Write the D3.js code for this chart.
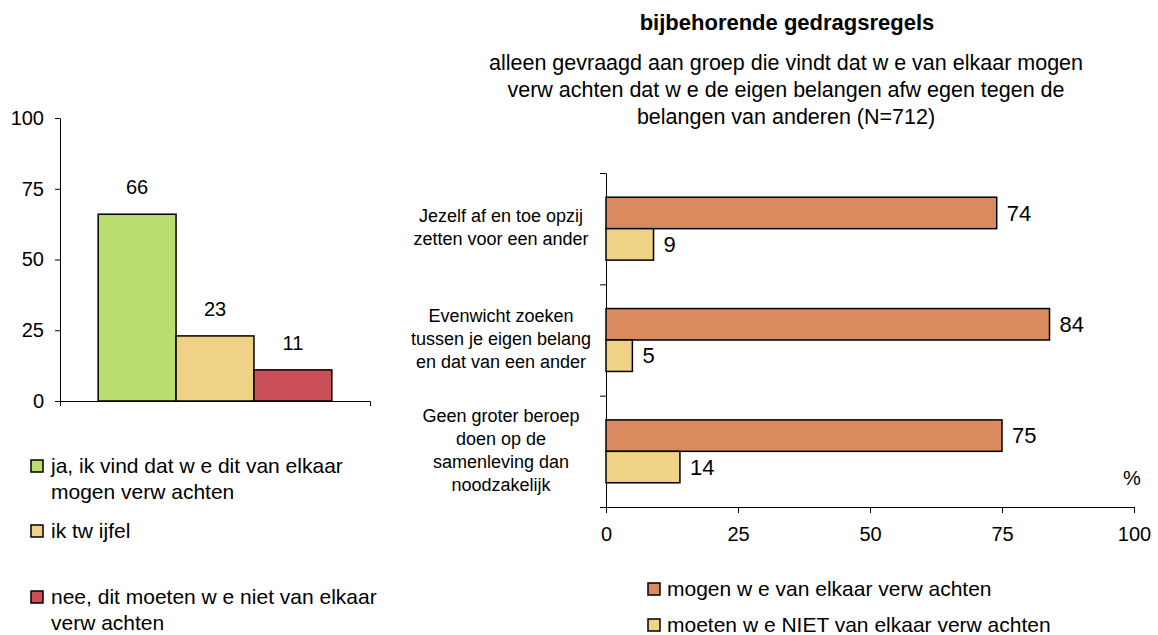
<!DOCTYPE html>
<html>
<head>
<meta charset="utf-8">
<script src="https://cdn.jsdelivr.net/npm/d3@7"></script>
<style>
  body { margin: 0; background: #fff; }
  svg { font-family: "Liberation Sans", Arial, sans-serif; }
</style>
</head>
<body>
<div id="chart"></div>
<script>
// left chart: one question, three answers
var leftSeries = ["ja, ik vind dat w e dit van elkaar mogen verw achten", "ik tw ijfel", "nee, dit moeten w e niet van elkaar verw achten"];
var leftValues = [66, 23, 11];
var leftColors = ["#bade6e", "#efd286", "#c94f59"];
var leftTicks = [0, 25, 50, 75, 100];

// right chart: behaviour rules, two series
var categories = [
  ["Jezelf af en toe opzij", "zetten voor een ander"],
  ["Evenwicht zoeken", "tussen je eigen belang", "en dat van een ander"],
  ["Geen groter beroep", "doen op de", "samenleving dan", "noodzakelijk"]
];
var rightSeries = ["mogen w e van elkaar verw achten", "moeten w e NIET van elkaar verw achten"];
var mogen = [74, 84, 75];
var nietMogen = [9, 5, 14];
var rightColors = ["#d98a5f", "#efd286"];
var rightTicks = [0, 25, 50, 75, 100];

var titleText = "bijbehorende gedragsregels";
var subtitleLines = [
  "alleen gevraagd aan groep die vindt dat w e van elkaar mogen",
  "verw achten dat w e de eigen belangen afw egen tegen de",
  "belangen van anderen (N=712)"
];

var width = 1158, height = 635;
var svg = d3.select("#chart").append("svg")
  .attr("width", width)
  .attr("height", height);

// ---------- left chart ----------
var yL = d3.scaleLinear().domain([0, 100]).range([401, 118]);
var xL = d3.scaleBand().domain(d3.range(leftValues.length))
  .range([60, 370]).paddingOuter(0.49).paddingInner(0);

var gL = svg.append("g");

gL.append("g")
  .attr("transform", "translate(60,0)")
  .call(d3.axisLeft(yL).tickValues(leftTicks).tickSize(5).tickSizeOuter(0).tickPadding(11))
  .call(function (g) {
    g.selectAll("text").style("font-size", "20px").attr("fill", "#000");
    g.selectAll("line, path").attr("stroke", "#000");
  });

gL.append("g")
  .attr("transform", "translate(0,401)")
  .call(d3.axisBottom(d3.scaleLinear().range([60, 370])).ticks(0).tickSizeOuter(5))
  .call(function (g) { g.select("path").attr("stroke", "#000"); });

gL.selectAll(".lbar")
  .data(leftValues)
  .enter().append("rect")
  .attr("class", "lbar")
  .attr("x", function (d, i) { return xL(i); })
  .attr("y", function (d) { return yL(d); })
  .attr("width", xL.bandwidth())
  .attr("height", function (d) { return yL(0) - yL(d); })
  .attr("fill", function (d, i) { return leftColors[i]; })
  .attr("stroke", "#000")
  .attr("stroke-width", 1.5);

gL.selectAll(".lval")
  .data(leftValues)
  .enter().append("text")
  .attr("class", "lval")
  .attr("x", function (d, i) { return xL(i) + xL.bandwidth() / 2; })
  .attr("y", function (d) { return yL(d) - 20; })
  .attr("text-anchor", "middle")
  .style("font-size", "20px")
  .text(function (d) { return d; });

// left legend
var leftLegendLines = [
  ["ja, ik vind dat w e dit van elkaar", "mogen verw achten"],
  ["ik tw ijfel"],
  ["nee, dit moeten w e niet van elkaar", "verw achten"]
];
var leftLegendY = [466, 531, 597];
var lleg = gL.selectAll(".lleg")
  .data(leftLegendLines)
  .enter().append("g")
  .attr("transform", function (d, i) { return "translate(31," + leftLegendY[i] + ")"; });
lleg.append("rect")
  .attr("x", 0).attr("y", -6).attr("width", 12).attr("height", 12)
  .attr("fill", function (d, i) { return leftColors[i]; })
  .attr("stroke", "#000").attr("stroke-width", 1.5);
lleg.append("text")
  .style("font-size", "21px")
  .selectAll("tspan")
  .data(function (d) { return d; })
  .enter().append("tspan")
  .attr("x", 20)
  .attr("y", function (d, i) { return i * 26; })
  .attr("dy", "0.35em")
  .text(function (d) { return d; });

// ---------- right chart ----------
var x = d3.scaleLinear().domain([0, 100]).range([606, 1134]);
var y = d3.scaleBand().domain(d3.range(categories.length)).range([173, 507]);
var ySub = d3.scaleBand().domain([0, 1]).range([0, y.bandwidth()]).paddingOuter(0.77);

var gR = svg.append("g");

gR.append("text")
  .attr("x", 787).attr("y", 22).attr("dy", "0.35em")
  .attr("text-anchor", "middle")
  .style("font-size", "22px").style("font-weight", "bold")
  .text(titleText);

gR.selectAll(".sub")
  .data(subtitleLines)
  .enter().append("text")
  .attr("class", "sub")
  .attr("x", 786)
  .attr("y", function (d, i) { return 62 + i * 27; })
  .attr("dy", "0.35em")
  .attr("text-anchor", "middle")
  .style("font-size", "21.5px")
  .text(function (d) { return d; });

gR.append("g")
  .attr("transform", "translate(0,507)")
  .call(d3.axisBottom(x).tickValues(rightTicks).tickSize(6).tickSizeOuter(0).tickPadding(14))
  .call(function (g) {
    g.selectAll("text").style("font-size", "20px").attr("fill", "#000");
    g.selectAll("line, path").attr("stroke", "#000");
  });

var yBound = d3.scaleLinear().domain([0, categories.length]).range([507, 173]);
gR.append("g")
  .attr("transform", "translate(606,0)")
  .call(d3.axisLeft(yBound).tickValues(d3.range(categories.length + 1)).tickFormat("").tickSize(6).tickSizeOuter(0))
  .call(function (g) { g.selectAll("line, path").attr("stroke", "#000"); });

var cat = gR.selectAll(".cat")
  .data(categories)
  .enter().append("g")
  .attr("class", "cat")
  .attr("transform", function (d, i) { return "translate(0," + y(i) + ")"; });

cat.each(function (d, i) {
  var g = d3.select(this);
  var vals = [mogen[i], nietMogen[i]];
  g.selectAll("rect")
    .data(vals)
    .enter().append("rect")
    .attr("x", x(0))
    .attr("y", function (v, j) { return ySub(j); })
    .attr("width", function (v) { return x(v) - x(0); })
    .attr("height", ySub.bandwidth())
    .attr("fill", function (v, j) { return rightColors[j]; })
    .attr("stroke", "#000")
    .attr("stroke-width", 1.5);
  g.selectAll(".rval")
    .data(vals)
    .enter().append("text")
    .attr("class", "rval")
    .attr("x", function (v) { return x(v) + 10; })
    .attr("y", function (v, j) { return ySub(j) + ySub.bandwidth() / 2; })
    .attr("dy", "0.35em")
    .style("font-size", "22px")
    .text(function (v) { return v; });
  var n = d.length, lh = 23;
  g.append("text")
    .attr("text-anchor", "middle")
    .style("font-size", "18px")
    .selectAll("tspan")
    .data(d)
    .enter().append("tspan")
    .attr("x", 501)
    .attr("y", function (t, k) { return y.bandwidth() / 2 - 1 + (k - (n - 1) / 2) * lh; })
    .attr("dy", "0.35em")
    .text(function (t) { return t; });
});

gR.append("text")
  .attr("x", 1132).attr("y", 478).attr("dy", "0.35em")
  .attr("text-anchor", "middle")
  .style("font-size", "20px")
  .text("%");

// right legend
var rleg = gR.selectAll(".rleg")
  .data(rightSeries)
  .enter().append("g")
  .attr("transform", function (d, i) { return "translate(648," + (589 + i * 36) + ")"; });
rleg.append("rect")
  .attr("x", 0).attr("y", -6).attr("width", 12).attr("height", 12)
  .attr("fill", function (d, i) { return rightColors[i]; })
  .attr("stroke", "#000").attr("stroke-width", 1.5);
rleg.append("text")
  .attr("x", 19)
  .attr("dy", "0.35em")
  .style("font-size", "21px")
  .text(function (d) { return d; });
</script>
</body>
</html>
